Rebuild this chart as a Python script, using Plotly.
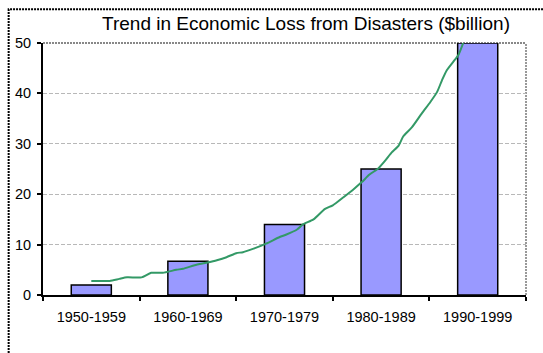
import plotly.graph_objects as go

# ---- data ----
decades = ["1950-1959", "1960-1969", "1970-1979", "1980-1989", "1990-1999"]
losses = [2, 6.7, 14, 25, 50]

# trend line, x in decade-index units (0 = 1950s centre)
trend_x = [0.0, 0.19, 0.29, 0.37, 0.52, 0.62, 0.74, 0.88, 0.95, 1.07, 1.19, 1.30,
           1.40, 1.50, 1.57, 1.68, 1.81, 1.95, 2.02, 2.13, 2.19, 2.30, 2.42, 2.50,
           2.61, 2.71, 2.80, 2.88, 2.97, 3.04, 3.11, 3.18, 3.23, 3.32, 3.42, 3.51,
           3.58, 3.63, 3.68, 3.76, 3.80, 3.85]
trend_y = [2.8, 2.8, 3.2, 3.5, 3.5, 4.4, 4.4, 5.0, 5.2, 5.9, 6.4, 6.9,
           7.5, 8.3, 8.5, 9.2, 10.2, 11.5, 12.0, 13.0, 14.0, 15.0, 17.1, 17.8,
           19.4, 20.9, 22.4, 23.9, 25.1, 26.6, 28.3, 29.6, 31.5, 33.3, 36.0, 38.3,
           40.3, 42.6, 44.6, 46.6, 47.6, 50.0]

title_text = "Trend in Economic Loss from Disasters ($billion)"

W, H = 543, 353
L, R, T, B = 43.3, 17.3, 42.7, 58.3
pw, ph = W - L - R, H - T - B

FONT = "Liberation Sans, Arial, sans-serif"

fig = go.Figure()
fig.add_trace(go.Bar(
    x=decades, y=losses, width=0.415,
    marker=dict(color="#9999FF", line=dict(color="black", width=1.5)),
    showlegend=False, hoverinfo="x+y",
))
fig.add_trace(go.Scatter(
    x=trend_x, y=trend_y, xaxis="x2", yaxis="y", mode="lines",
    line=dict(color="#339966", width=2, shape="spline", smoothing=0.6),
    showlegend=False,
))

def px_to_paper_x(px):
    return (px - L) / pw

def py_to_paper_y(py):
    return (H - B - py) / ph

shapes = [
    # outer frame (clipped at right and bottom)
    dict(type="rect", xref="paper", yref="paper",
         x0=px_to_paper_x(9), x1=px_to_paper_x(570),
         y0=py_to_paper_y(380), y1=py_to_paper_y(9),
         line=dict(color="black", width=2, dash="2px,1px"), layer="above"),
    # plot-area border top and right (gray)
    dict(type="line", xref="paper", yref="paper", x0=0, x1=1, y0=1, y1=1,
         line=dict(color="#888888", width=2, dash="2px,1px"), layer="below"),
    dict(type="line", xref="paper", yref="paper", x0=1, x1=1, y0=0, y1=1,
         line=dict(color="#999999", width=2, dash="2px,1px"), layer="below"),
]

fig.update_layout(
    width=W, height=H,
    margin=dict(l=L, r=R, t=T, b=B, pad=0),
    paper_bgcolor="white", plot_bgcolor="white",
    font=dict(family=FONT, color="black", size=14),
    title=dict(text=title_text, font=dict(family=FONT, size=19, color="black"),
               xref="paper", x=px_to_paper_x(306), xanchor="center",
               yref="container", y=1 - 23 / H, yanchor="middle"),
    xaxis=dict(type="category", tickson="boundaries", ticks="outside", ticklen=4,
               tickcolor="black", tickwidth=1.5, showline=True, linecolor="black",
               linewidth=2, showgrid=False, zeroline=False,
               tickfont=dict(family=FONT, size=14.5, color="black"),
               ticklabelstandoff=8, range=[-0.5, 4.5]),
    xaxis2=dict(overlaying="x", range=[-0.5, 4.5], visible=False,
                showgrid=False, zeroline=False),
    yaxis=dict(range=[0, 50], dtick=10, ticks="outside", ticklen=4,
               tickcolor="black", tickwidth=1.5, showline=True, linecolor="black",
               linewidth=2, showgrid=True, gridcolor="#b8b8b8", gridwidth=1,
               griddash="4px,2px", zeroline=False, ticklabelstandoff=3,
               tickfont=dict(family=FONT, size=14.5, color="black")),
    shapes=shapes,
)

fig.write_html("out.html")
